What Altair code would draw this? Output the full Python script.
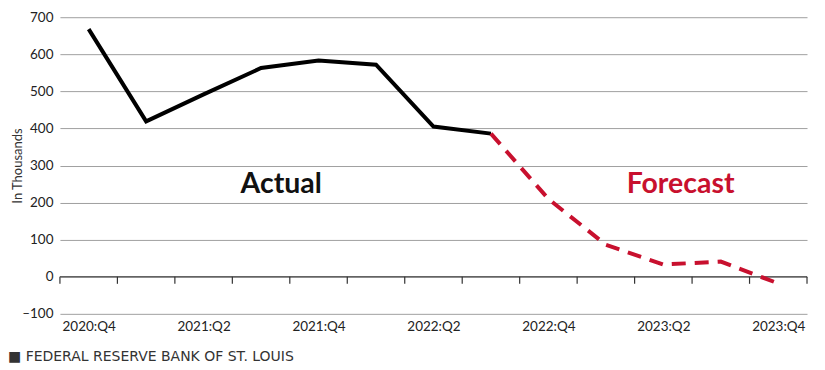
import altair as alt
import pandas as pd

quarters = ["2020:Q4", "2021:Q1", "2021:Q2", "2021:Q3", "2021:Q4", "2022:Q1",
            "2022:Q2", "2022:Q3", "2022:Q4", "2023:Q1", "2023:Q2", "2023:Q3", "2023:Q4"]
actual_values = [668, 419, 492, 563, 583, 572, 405, 386]
forecast_start = 7
forecast_values = [386, 210, 86, 33, 41, -18]
y_ticks = [-100, 0, 100, 200, 300, 400, 500, 600, 700]
label_quarters = [0, 2, 4, 6, 8, 10, 12]

FONT = "Lato"

actual_df = pd.DataFrame({"i": list(range(len(actual_values))), "v": actual_values})
fc_df = pd.DataFrame({"i": list(range(forecast_start, forecast_start + len(forecast_values))),
                      "v": forecast_values})
tick_df = pd.DataFrame({"i": [k - 0.5 for k in range(len(quarters) + 1)], "v": 0, "v2": -19})
zero_df = pd.DataFrame({"v": [0]})
ann_df = pd.DataFrame({"i": [3.35, 10.3], "v": [250, 250], "t": ["Actual", "Forecast"],
                       "c": ["#111111", "#C8102E"]})

label_arr = "[" + ",".join("'%s'" % q for q in quarters) + "]"

xscale = alt.Scale(domain=[-0.5, 12.5], nice=False, zero=False)
yscale = alt.Scale(domain=[-100, 700], nice=False)

xaxis = alt.Axis(values=label_quarters, labelExpr=label_arr + "[datum.value]", title=None,
                 domain=False, ticks=False, grid=False, labelFont=FONT, labelFontSize=13.5,
                 labelColor="#222", labelPadding=6, labelOverlap=False)
yaxis = alt.Axis(values=y_ticks, title="In Thousands", titleFont=FONT, titleFontSize=13,
                 titleFontWeight="normal", titleColor="#333", titleX=-35, titleY=148.5,
                 titleAngle=270, titleBaseline="bottom", titleAlign="center",
                 domain=False, ticks=False, labelFont=FONT, labelFontSize=13.5,
                 labelColor="#222", labelPadding=7, gridColor="#a0a0a0", gridWidth=1,
                 labelOverlap=False, labelBound=False, labelFlush=False,
                 labelExpr="datum.value < 0 ? '\u2013' + abs(datum.value) : '' + datum.value")

X = alt.X("i:Q", scale=xscale, axis=xaxis)
Y = alt.Y("v:Q", scale=yscale, axis=yaxis)

base_line = alt.Chart(actual_df).mark_line(color="#000000", strokeWidth=4, strokeJoin="miter").encode(
    x=X, y=Y)

fc_line = alt.Chart(fc_df).mark_line(color="#C8102E", strokeWidth=4, strokeDash=[14, 9]).encode(
    x=X, y=Y)

zero_rule = alt.Chart(zero_df).mark_rule(color="#333333", strokeWidth=1.2).encode(y=Y)

ticks = alt.Chart(tick_df).mark_rule(color="#333333", strokeWidth=1.2).encode(
    x=X, y=Y, y2="v2:Q")

ann = alt.Chart(ann_df).mark_text(font=FONT, fontSize=28.5, fontWeight="bold", align="center",
                                  baseline="middle").encode(
    x=X, y=Y, text="t:N", color=alt.Color("c:N", scale=None))

footer = alt.Chart(pd.DataFrame({"t": ["\u25A0  FEDERAL RESERVE BANK OF ST. LOUIS"]})).mark_text(
    font="DejaVu Sans", fontSize=14, align="left", baseline="middle", color="#333"
).encode(x=alt.value(-52), y=alt.value(340), text="t:N")

chart = alt.layer(base_line, zero_rule, ticks, fc_line, ann, footer).properties(
    width=748, height=297,
    background="white",
    autosize=alt.AutoSizeParams(type="none"),
    padding={"left": 52, "top": 9, "right": 10, "bottom": 50},
).configure_view(stroke=None)

chart.save("out.html", embed_options={"renderer": "svg", "actions": False})
